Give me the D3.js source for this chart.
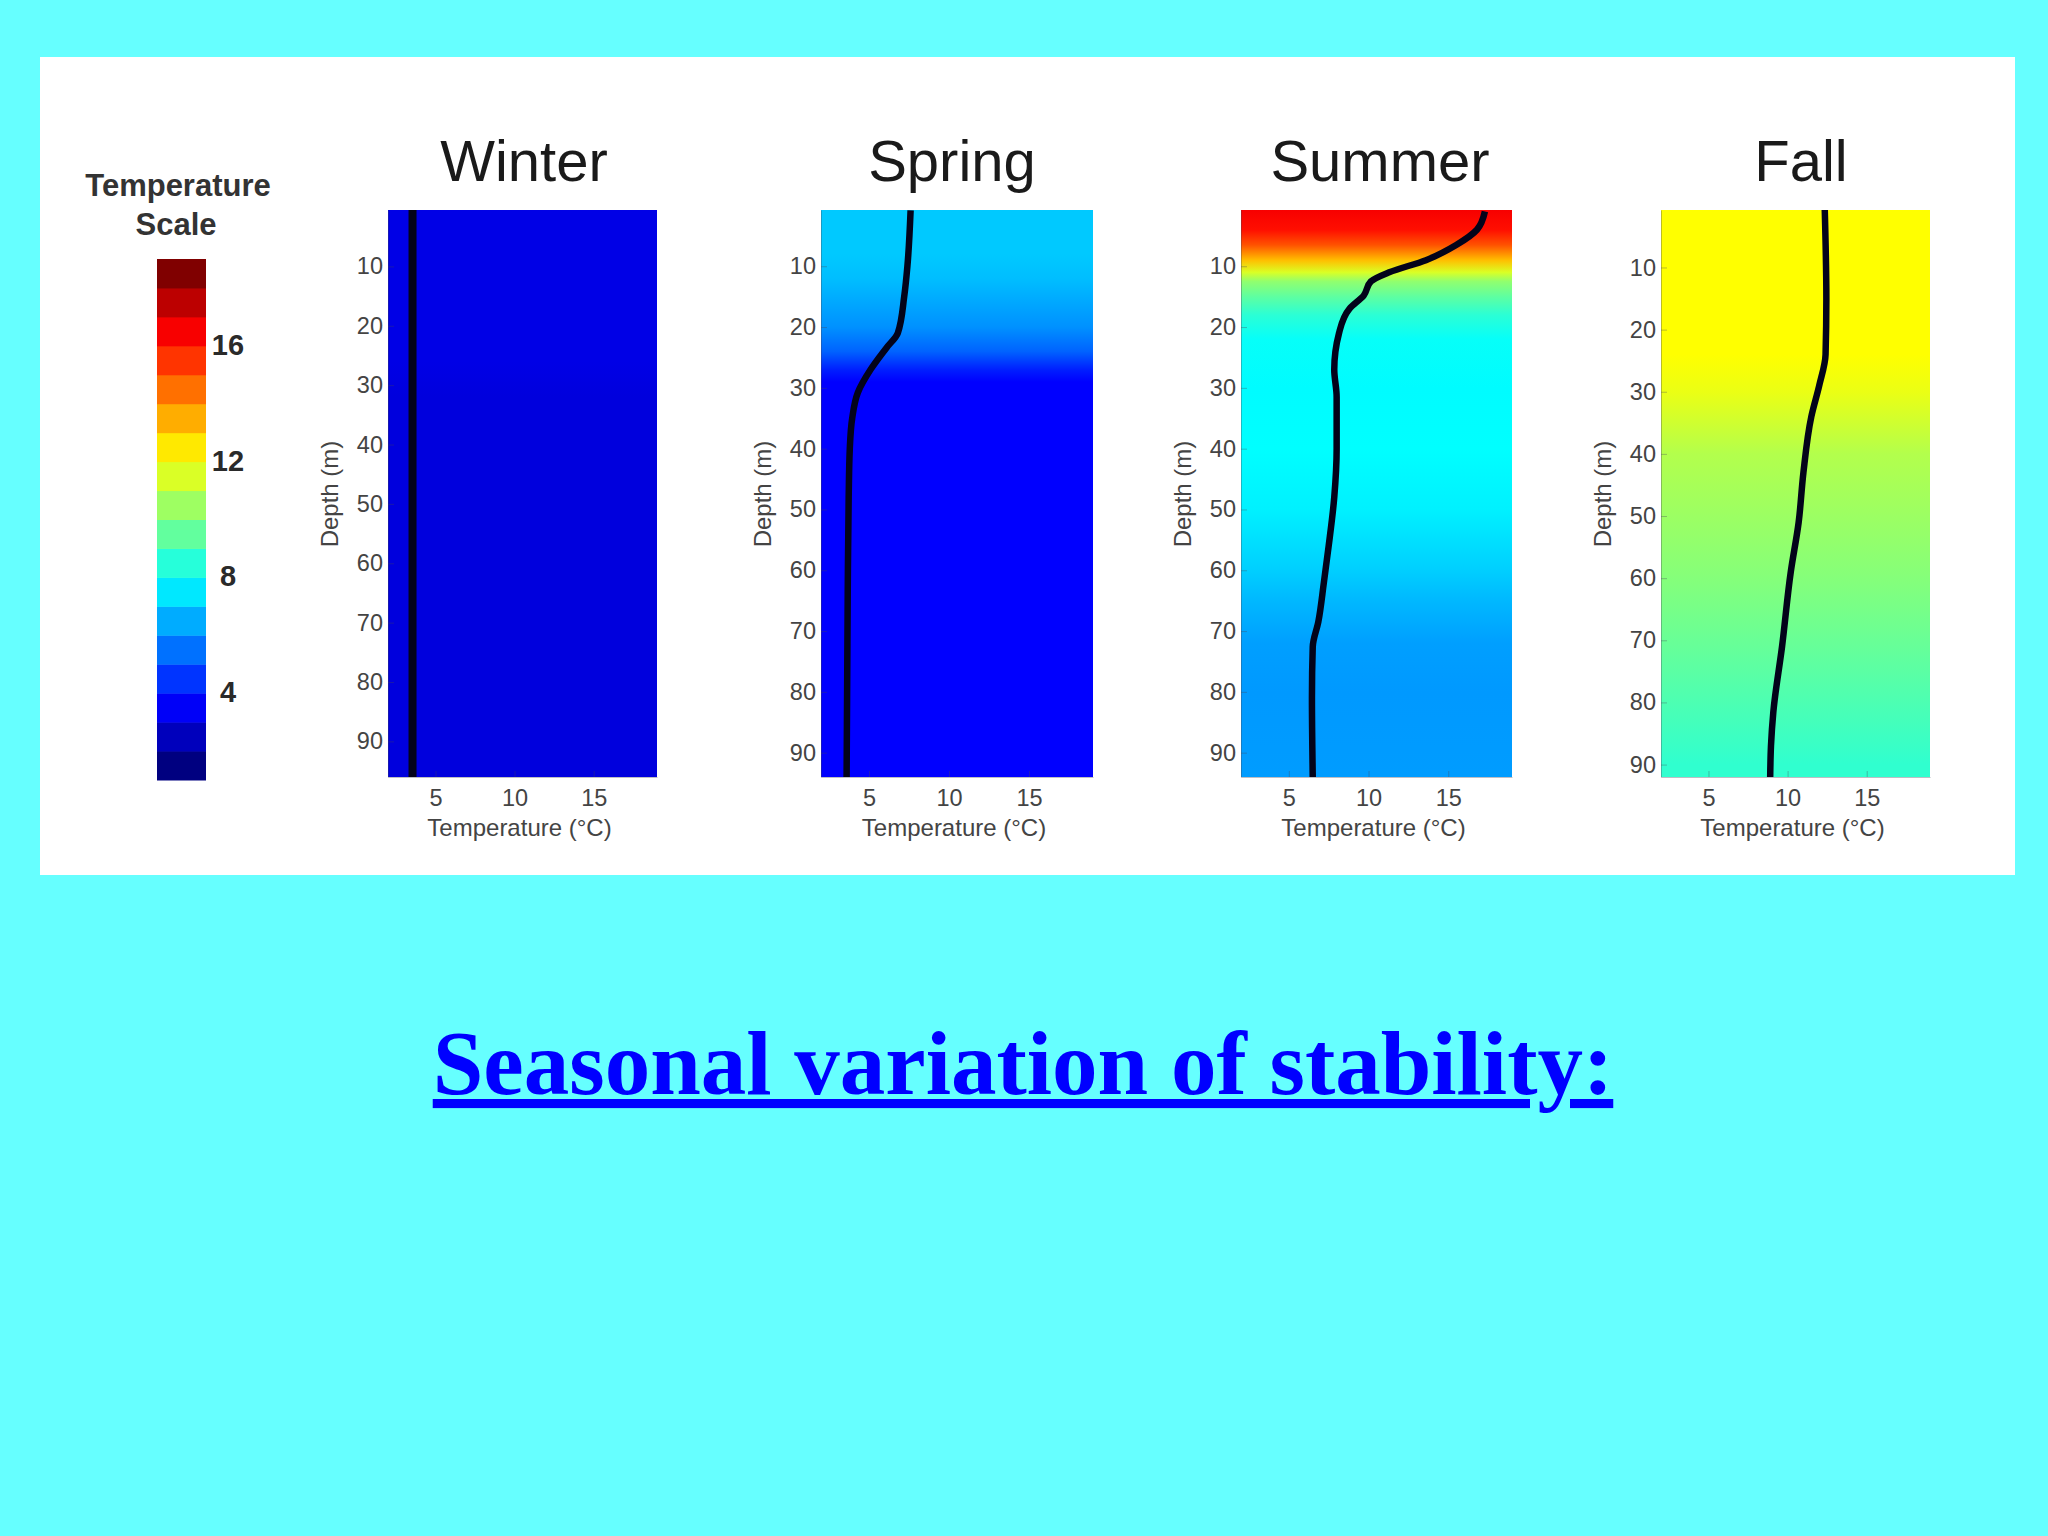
<!DOCTYPE html>
<html>
<head>
<meta charset="utf-8">
<title>Seasonal variation of stability</title>
<script src="https://cdnjs.cloudflare.com/ajax/libs/d3/7.8.5/d3.min.js"></script>
<style>
    html, body { margin: 0; padding: 0; background: #66ffff; }
    svg { display: block; }
    text { font-family: "Liberation Sans", Arial, sans-serif; }
    .tick text { font-size: 23.5px; fill: #444; }
    .tick line, .domain { stroke: #445; stroke-opacity: .35; }
</style>
</head>
<body>
<div id="chart"></div>
<script>
//seasons and axis ticks
var seasons = ["Winter", "Spring", "Summer", "Fall"];
var tempTicks = [5, 10, 15];
var depthTicks = [10, 20, 30, 40, 50, 60, 70, 80, 90];
var tempDomain = [2, 19];

//depth shown by each panel (the axes differ slightly)
var winterRange = [0.5, 96];
var springRange = [0.75, 94];
var summerRange = [0.75, 94];
var fallRange = [0.75, 92];

//black profile lines
var winterDepth = [0.5, 30, 60, 96];
var winterTemp = [3.55, 3.55, 3.55, 3.55];

var springDepth = [0.8, 10, 15, 21, 23.4, 27, 30.8, 35, 40, 48, 64, 94];
var springTemp = [7.6, 7.4, 7.2, 6.8, 6.1, 5.1, 4.3, 3.95, 3.8, 3.73, 3.67, 3.6];

var summerDepth = [1, 4, 6.5, 9, 11, 12.5, 14.8, 17, 21, 27, 31.5, 40, 48, 56, 62, 68.5, 72.6, 81, 94];
var summerTemp = [17.3, 16.8, 15.5, 13.6, 11.3, 10.15, 9.7, 8.8, 8.15, 7.85, 8, 8, 7.85, 7.5, 7.2, 6.85, 6.5, 6.45, 6.5];

var fallDepth = [0.75, 15, 24, 29, 34, 43, 51, 59, 71, 81.5, 87, 92];
var fallTemp = [12.35, 12.45, 12.4, 12, 11.5, 11, 10.7, 10.2, 9.65, 9.1, 8.95, 8.9];

//colour field behind the lines, it does not quite follow the line
var winterFieldDepth = [0.5, 26, 32, 96];
var winterFieldTemp = [2.8, 2.8, 2.65, 2.65];
var springFieldDepth = [0.75, 8, 12, 20, 24, 27, 29, 94];
var springFieldTemp = [6.8, 6.8, 6.6, 5.8, 5, 3.8, 3.25, 3.25];
var summerFieldDepth = [0.75, 4, 6.5, 9, 11, 12.5, 15, 18, 22, 30, 40, 50, 60, 65, 72, 80, 94];
var summerFieldTemp = [16.9, 16.5, 15.3, 13.4, 11.6, 10.3, 9.4, 8.5, 7.85, 7.7, 7.75, 7.5, 6.9, 6.5, 6.05, 5.95, 6];
var fallFieldDepth = [0.75, 24, 30, 40, 60, 70, 90, 92];
var fallFieldTemp = [12.25, 12.25, 11.9, 10.9, 10.1, 9.6, 8.6, 8.6];

//temperature scale
var scaleLabels = [4, 8, 12, 16];
var scaleLevels = d3.range(18);
var scaleDomain = [1, 19];

//jet colour map
var jetStops = [1, 3.25, 7.75, 12.25, 16.75, 19];
var jetColors = ["#000080", "#0000ff", "#00ffff", "#ffff00", "#ff0000", "#800000"];

var heading = "Seasonal variation of stability:";

//svg dimensions
var svgWidth = 2048;
var svgHeight = 1536;

//plot box
var plotTop = 210;
var plotBottom = 777;
var panelLeft = [388, 821, 1241, 1661];
var panelRight = [657, 1093, 1512, 1930];
var titleCenter = [524, 952, 1380, 1801];

var colorScale = d3.scaleLinear()
    .domain(jetStops)
    .range(jetColors);

var svg = d3.select("#chart").append("svg")
    .attr("width", svgWidth)
    .attr("height", svgHeight);

var defs = svg.append("defs");

svg.append("rect")
    .attr("x", 40)
    .attr("y", 57)
    .attr("width", 1975)
    .attr("height", 818)
    .attr("fill", "#ffffff");

var panels = [
    {depth: winterDepth, temp: winterTemp, fieldDepth: winterFieldDepth, fieldTemp: winterFieldTemp, range: winterRange, lineWidth: 8},
    {depth: springDepth, temp: springTemp, fieldDepth: springFieldDepth, fieldTemp: springFieldTemp, range: springRange, lineWidth: 6.5},
    {depth: summerDepth, temp: summerTemp, fieldDepth: summerFieldDepth, fieldTemp: summerFieldTemp, range: summerRange, lineWidth: 6.5},
    {depth: fallDepth, temp: fallTemp, fieldDepth: fallFieldDepth, fieldTemp: fallFieldTemp, range: fallRange, lineWidth: 6.5}
];

//one plot for each season
panels.forEach(function (panel, i) {
    var left = panelLeft[i];
    var right = panelRight[i];

    var xScale = d3.scaleLinear()
        .domain(tempDomain)
        .range([left, right]);

    var yScale = d3.scaleLinear()
        .domain(panel.range)
        .range([plotTop, plotBottom]);

    var gradient = defs.append("linearGradient")
        .attr("id", "field" + i)
        .attr("gradientUnits", "userSpaceOnUse")
        .attr("x1", 0)
        .attr("x2", 0)
        .attr("y1", plotTop)
        .attr("y2", plotBottom);

    gradient.selectAll("stop")
        .data(panel.fieldDepth)
        .enter()
        .append("stop")
        .attr("offset", d => (yScale(d) - plotTop) / (plotBottom - plotTop))
        .attr("stop-color", (d, j) => colorScale(panel.fieldTemp[j]));

    svg.append("rect")
        .attr("x", left)
        .attr("y", plotTop)
        .attr("width", right - left)
        .attr("height", plotBottom - plotTop)
        .attr("fill", "url(#field" + i + ")");

    var line = d3.line()
        .x(d => xScale(d[1]))
        .y(d => yScale(d[0]))
        .curve(d3.curveMonotoneY);

    svg.append("path")
        .attr("d", line(d3.zip(panel.depth, panel.temp)))
        .attr("fill", "none")
        .attr("stroke", "#03031a")
        .attr("stroke-width", panel.lineWidth)
        .attr("stroke-linejoin", "round");

    svg.append("g")
        .attr("transform", `translate(0, ${plotBottom})`)
        .call(d3.axisBottom(xScale).tickValues(tempTicks).tickSizeInner(-6).tickSizeOuter(0).tickPadding(12));

    svg.append("g")
        .attr("transform", `translate(${left}, 0)`)
        .call(d3.axisLeft(yScale).tickValues(depthTicks).tickSizeInner(-6).tickSizeOuter(0).tickPadding(5));

    //title and axis labels
    svg.append("text")
        .attr("x", titleCenter[i])
        .attr("y", 181)
        .attr("text-anchor", "middle")
        .attr("font-size", 58)
        .attr("fill", "#1a1a1a")
        .text(seasons[i]);

    svg.append("text")
        .attr("x", (left + right) / 2 - 3)
        .attr("y", 836)
        .attr("text-anchor", "middle")
        .attr("font-size", 24)
        .attr("fill", "#444")
        .text("Temperature (°C)");

    svg.append("text")
        .attr("transform", `translate(${left - 50}, 494) rotate(-90)`)
        .attr("text-anchor", "middle")
        .attr("font-size", 24)
        .attr("fill", "#444")
        .text("Depth (m)");
});

//temperature scale bar
var barScale = d3.scaleLinear()
    .domain(scaleDomain)
    .range([780, 259]);

svg.selectAll(".scaleBand")
    .data(scaleLevels)
    .enter()
    .append("rect")
    .classed("scaleBand", true)
    .attr("x", 157)
    .attr("width", 49)
    .attr("y", d => barScale(d + scaleDomain[0] + 1))
    .attr("height", d => barScale(d + scaleDomain[0]) - barScale(d + scaleDomain[0] + 1) + .5)
    .attr("fill", d => colorScale(scaleDomain[0] + d * (scaleDomain[1] - scaleDomain[0]) / (scaleLevels.length - 1)));

svg.selectAll(".scaleLabel")
    .data(scaleLabels)
    .enter()
    .append("text")
    .classed("scaleLabel", true)
    .attr("x", 228)
    .attr("y", d => barScale(d) + 9)
    .attr("text-anchor", "middle")
    .attr("font-size", 29)
    .attr("font-weight", "bold")
    .attr("fill", "#2a2a2a")
    .text(d => d);

svg.append("text")
    .attr("x", 178)
    .attr("y", 196)
    .attr("text-anchor", "middle")
    .attr("font-size", 31)
    .attr("font-weight", "bold")
    .attr("fill", "#333")
    .text("Temperature");

svg.append("text")
    .attr("x", 176)
    .attr("y", 235)
    .attr("text-anchor", "middle")
    .attr("font-size", 31)
    .attr("font-weight", "bold")
    .attr("fill", "#333")
    .text("Scale");

//slide heading
svg.append("text")
    .attr("x", 1023)
    .attr("y", 1094)
    .attr("text-anchor", "middle")
    .attr("font-size", 91)
    .attr("font-weight", "bold")
    .attr("fill", "#0000ff")
    .attr("text-decoration", "underline")
    .style("font-family", '"Liberation Serif", "Times New Roman", serif')
    .text(heading);
</script>
</body>
</html>
